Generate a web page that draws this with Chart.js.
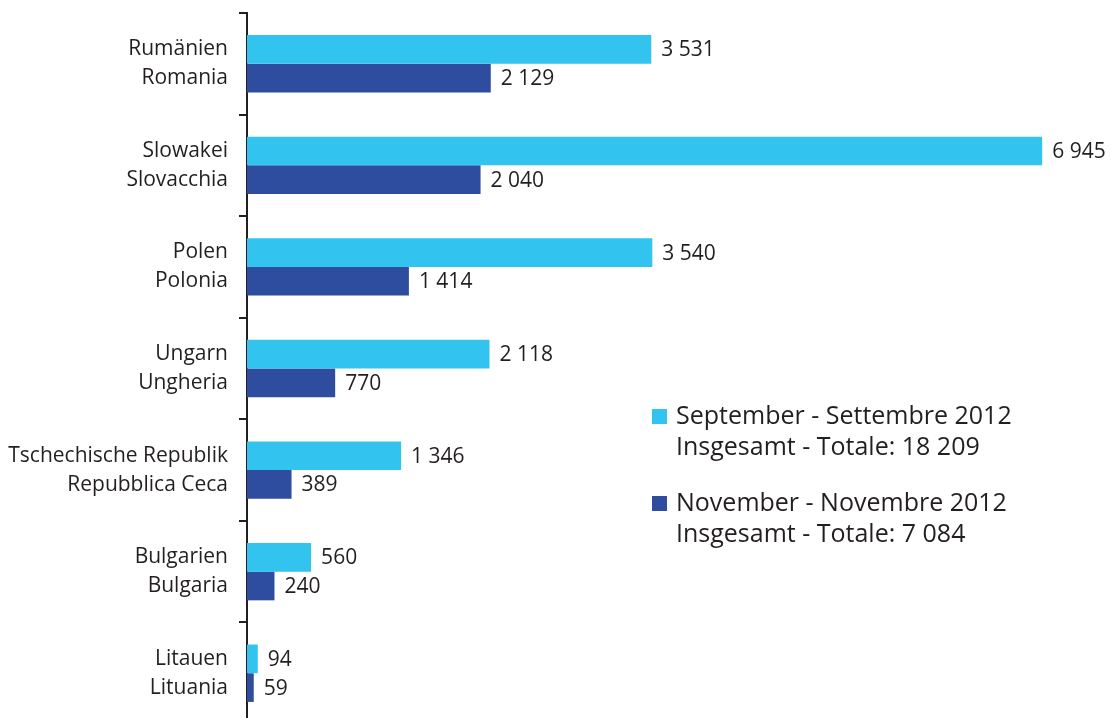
<!DOCTYPE html>
<html>
<head>
<meta charset="utf-8">
<script src="https://cdn.jsdelivr.net/npm/chart.js@4/dist/chart.umd.min.js"></script>
<style>
    html, body { margin: 0; padding: 0; background: #fff; overflow: hidden; }
    #wrap { position: relative; width: 1111px; height: 730px; }
    #legend {
        position: absolute; left: 652px; top: 399px;
        font-family: "Open Sans", sans-serif; font-size: 25px; line-height: 31px; color: #231f20;
    }
    .item { position: relative; padding-left: 24px; margin-bottom: 25px; white-space: nowrap; }
    .box { position: absolute; left: 0; top: 10px; width: 15px; height: 15px; }
</style>
</head>
<body>
<div id="wrap">
    <canvas id="chart" width="1111" height="730"></canvas>
    <div id="legend"></div>
</div>
<script>
// categories (German / Italian)
const categories = [
    ['Rumänien', 'Romania'],
    ['Slowakei', 'Slovacchia'],
    ['Polen', 'Polonia'],
    ['Ungarn', 'Ungheria'],
    ['Tschechische Republik', 'Repubblica Ceca'],
    ['Bulgarien', 'Bulgaria'],
    ['Litauen', 'Lituania']
];
const septValues = [3531, 6945, 3540, 2118, 1346, 560, 94];
const novValues = [2129, 2040, 1414, 770, 389, 240, 59];
const seriesNames = ['September - Settembre 2012', 'November - Novembre 2012'];
const totals = [18209, 7084];
const colors = ['#33c3ef', '#2e4d9e'];

const textColor = '#231f20';
const fontFamily = '"Open Sans", sans-serif';

function fmt(v) {
    return String(v).replace(/\B(?=(\d{3})+(?!\d))/g, ' ');
}

// value labels right of each bar
const valueLabels = {
    id: 'valueLabels',
    afterDatasetsDraw(chart) {
        const ctx = chart.ctx;
        ctx.save();
        ctx.font = '21px ' + fontFamily;
        ctx.fillStyle = textColor;
        ctx.textAlign = 'left';
        ctx.textBaseline = 'middle';
        chart.data.datasets.forEach((ds, di) => {
            chart.getDatasetMeta(di).data.forEach((bar, i) => {
                ctx.fillText(fmt(ds.data[i]), bar.x + 10, bar.y + 1);
            });
        });
        ctx.restore();
    }
};

new Chart(document.getElementById('chart'), {
    type: 'bar',
    data: {
        labels: categories,
        datasets: [
            { label: seriesNames[0], data: septValues, backgroundColor: colors[0] },
            { label: seriesNames[1], data: novValues, backgroundColor: colors[1] }
        ]
    },
    options: {
        indexAxis: 'y',
        responsive: false,
        animation: false,
        layout: { padding: { top: 13, right: 11, bottom: 6, left: 0 } },
        datasets: { bar: { categoryPercentage: 0.565, barPercentage: 1 } },
        plugins: { legend: { display: false }, tooltip: { enabled: false } },
        scales: {
            x: { display: false, min: 0, max: 7450 },
            y: {
                afterFit(scale) {
                    scale.width = 247;
                    scale.paddingTop = 0;
                    scale.paddingBottom = 0;
                },
                grid: {
                    display: true, drawOnChartArea: false, drawTicks: true,
                    tickLength: 8, offset: true, color: textColor, lineWidth: 2
                },
                border: { display: true, color: textColor, width: 2 },
                ticks: {
                    padding: 11,
                    color: textColor,
                    font: { family: fontFamily, size: 21, lineHeight: 1.38 }
                }
            }
        }
    },
    plugins: [valueLabels]
});

document.getElementById('legend').innerHTML = seriesNames.map((name, i) => `
    <div class="item">
        <span class="box" style="background:${colors[i]}"></span>
        ${name}<br>Insgesamt - Totale: ${fmt(totals[i])}
    </div>
`).join('');
</script>
</body>
</html>
